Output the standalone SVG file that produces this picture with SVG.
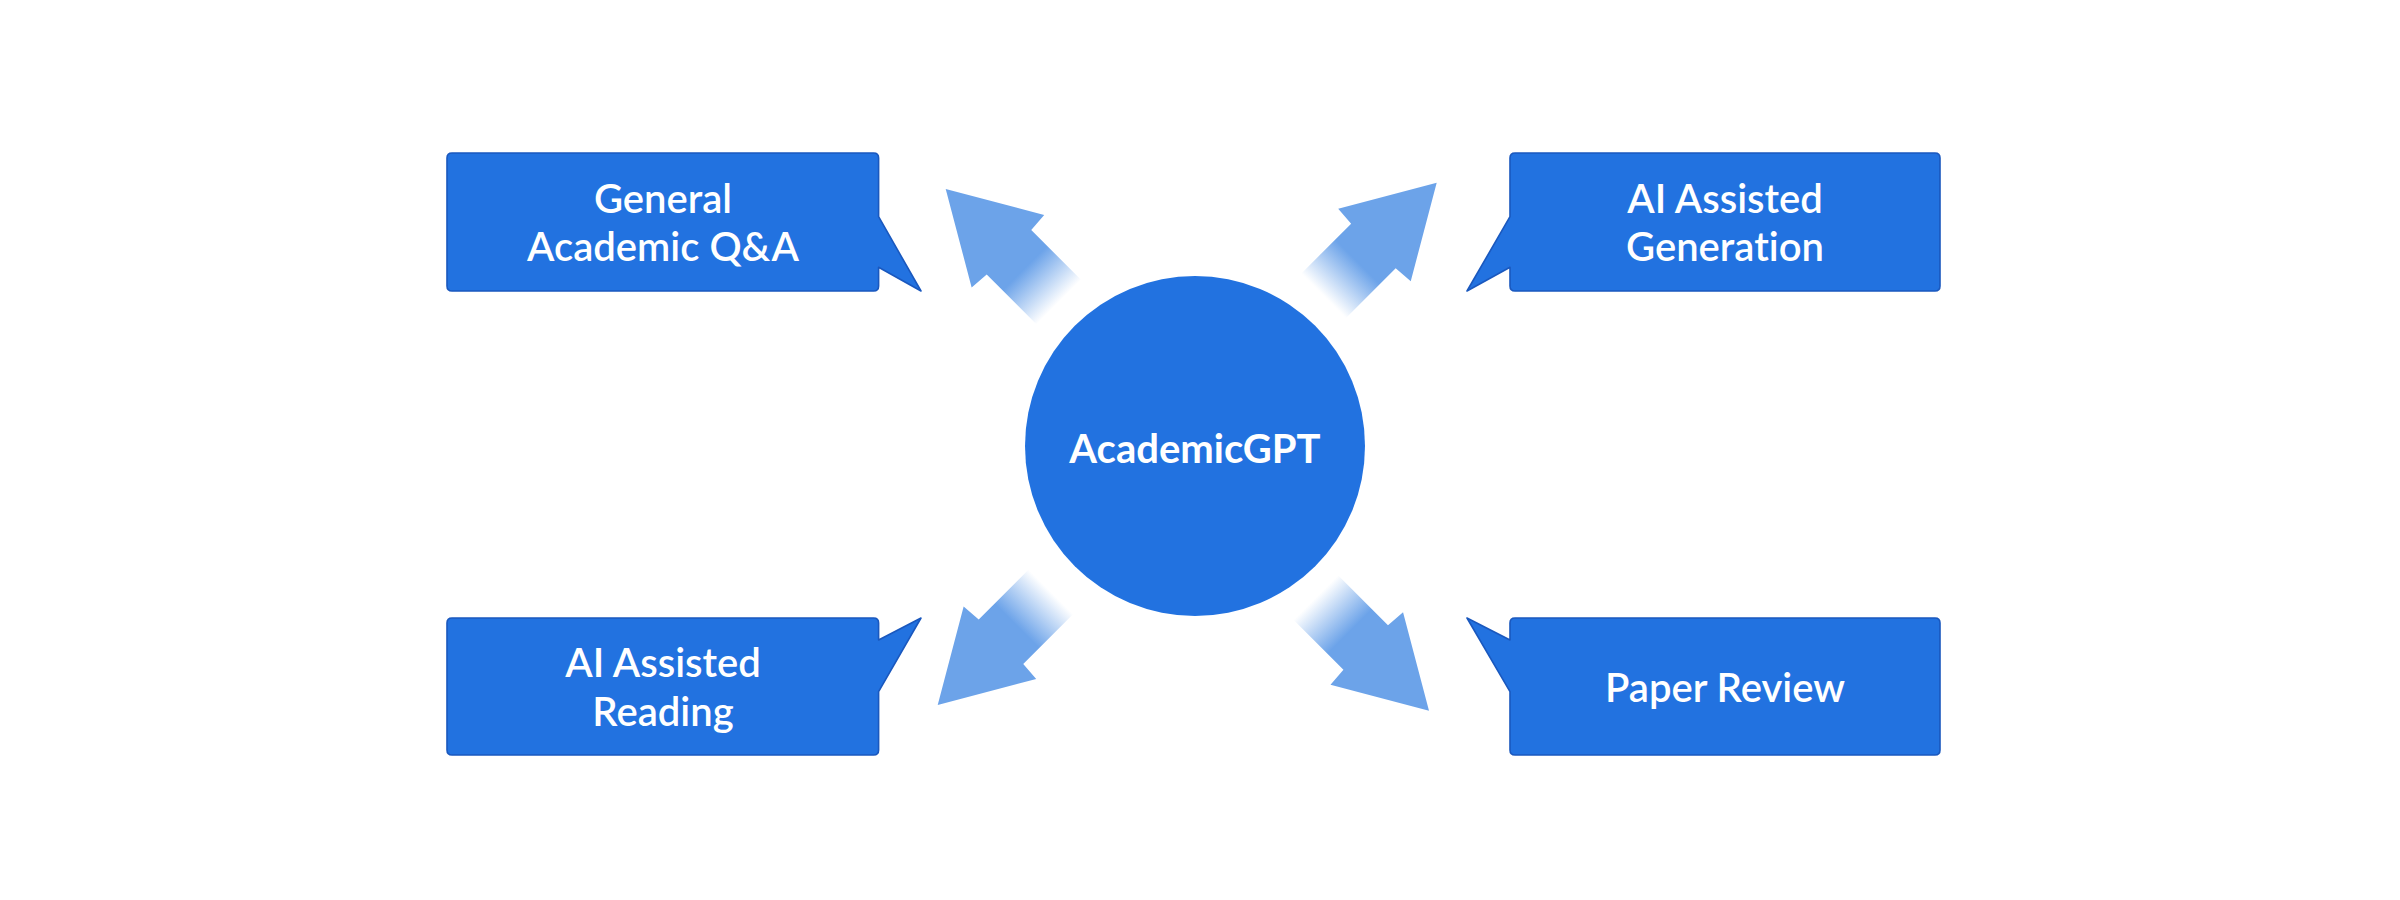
<svg xmlns="http://www.w3.org/2000/svg" width="2400" height="900" viewBox="0 0 2400 900">
  <style>
    .box { fill: #2272E0; stroke: #1A58BE; stroke-width: 1.6; stroke-linejoin: round; }
    .label { font-family: Lato, "Open Sans", sans-serif; font-size: 40px; font-weight: 600; fill: #FFFFFF; text-anchor: middle; font-variant-ligatures: none; }
    .hub { fill: #2272E0; }
    .hubtext { font-family: Lato, "Open Sans", sans-serif; font-size: 40px; font-weight: 700; fill: #FFFFFF; text-anchor: middle; font-variant-ligatures: none; }
  </style>
  <defs>
    <linearGradient id="fade" gradientUnits="userSpaceOnUse" x1="-112" y1="0" x2="-160" y2="0">
      <stop offset="0" stop-color="#6CA3E9" stop-opacity="1"/>
      <stop offset="1" stop-color="#6CA3E9" stop-opacity="0"/>
    </linearGradient>
    <path id="arrow" d="M 0,0 L -88,51.3 L -89.5,31.5 L -175,31.5 L -175,-31.5 L -89.5,-31.5 L -88,-51.3 Z" fill="url(#fade)"/>
  </defs>
  <rect width="2400" height="900" fill="#FFFFFF"/>

  <g id="connectors">
    <use href="#arrow" transform="translate(945.7,189) rotate(225)"/>
    <use href="#arrow" transform="translate(1436.7,182.7) rotate(-45)"/>
    <use href="#arrow" transform="translate(937.7,705) rotate(135)"/>
    <use href="#arrow" transform="translate(1429,710.7) rotate(45)"/>
  </g>

  <g id="hub">
    <circle class="hub" cx="1195" cy="446" r="170"/>
    <text class="hubtext" x="1195" y="463">AcademicGPT</text>
  </g>

  <g id="general-qa">
    <path class="box" d="M 452,153 H 873.6 Q 878.6,153 878.6,158 V 216.7 L 921,291 L 878.6,267.3 V 286 Q 878.6,291 873.6,291 H 452 Q 447,291 447,286 V 158 Q 447,153 452,153 Z"/>
    <text class="label" x="663" y="212.7">General</text>
    <text class="label" x="663" y="260.7">Academic Q&amp;A</text>
  </g>

  <g id="ai-generation">
    <path class="box" d="M 1515,153 H 1935 Q 1940,153 1940,158 V 286 Q 1940,291 1935,291 H 1515 Q 1510,291 1510,286 V 267.3 L 1467,291 L 1510,216.7 V 158 Q 1510,153 1515,153 Z"/>
    <text class="label" x="1725" y="212.7">AI Assisted</text>
    <text class="label" x="1725" y="260.7">Generation</text>
  </g>

  <g id="ai-reading">
    <path class="box" d="M 452,618 H 873.6 Q 878.6,618 878.6,623 V 640 L 921,618 L 878.6,691.7 V 750 Q 878.6,755 873.6,755 H 452 Q 447,755 447,750 V 623 Q 447,618 452,618 Z"/>
    <text class="label" x="663" y="677.3">AI Assisted</text>
    <text class="label" x="663" y="725.7">Reading</text>
  </g>

  <g id="paper-review">
    <path class="box" d="M 1515,618 H 1935 Q 1940,618 1940,623 V 750 Q 1940,755 1935,755 H 1515 Q 1510,755 1510,750 V 691.7 L 1467,618 L 1510,640 V 623 Q 1510,618 1515,618 Z"/>
    <text class="label" x="1725" y="701.5">Paper Review</text>
  </g>
</svg>
